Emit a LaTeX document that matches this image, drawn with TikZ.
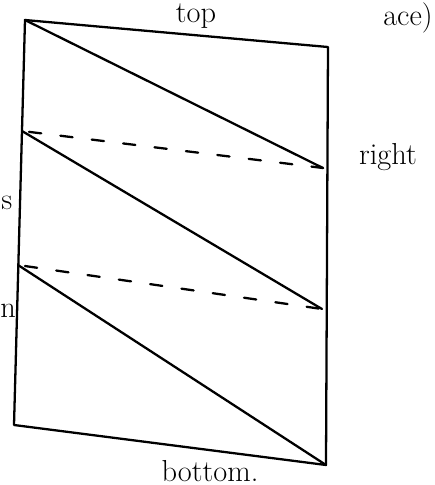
\documentclass[tikz,border=0pt]{standalone}
\tikzset{
  edge/.style={line width=1.3pt,line cap=round,line join=round},
  guide/.style={edge,dash pattern=on 7pt off 11pt,dash phase=-4pt},
  lbl/.style={font=\LARGE,inner sep=0pt}
}
\begin{document}
\begin{tikzpicture}[x=0.02cm,y=-0.02cm]
  \useasboundingbox (0,0) rectangle (435,485);
  \clip (0,0) rectangle (435,485);

  % corners of the sheet
  \coordinate (tl) at (25,20);
  \coordinate (tr) at (328,47);
  \coordinate (br) at (326,465);
  \coordinate (bl) at (14,425);
  % points on the left and right edges
  \coordinate (l1) at (22,131);
  \coordinate (l2) at (18,265);
  \coordinate (r1) at (323,168);
  \coordinate (r2) at (322,309);

  \draw[edge] (tl) -- (tr) -- (br) -- (bl) -- cycle;

  \foreach \a/\b in {tl/r1,l1/r2,l2/br}
    \draw[edge] (\a) -- (\b);
  \foreach \a/\b in {l1/r1,l2/r2}
    \draw[guide] (\a) -- (\b);

  \node[lbl] (top) at (196,16) {top};
  \node[lbl] (right) at (388,157) {right};
  \node[lbl,anchor=south] (bottom) at (210,482) {bottom.};
  \node[lbl,anchor=west] (lefts) at (1,203) {s};
  \node[lbl,anchor=west] (leftn) at (0,311) {n};
  \node[lbl,anchor=north east] (corner) at (433,2) {ace)};
\end{tikzpicture}
\end{document}
